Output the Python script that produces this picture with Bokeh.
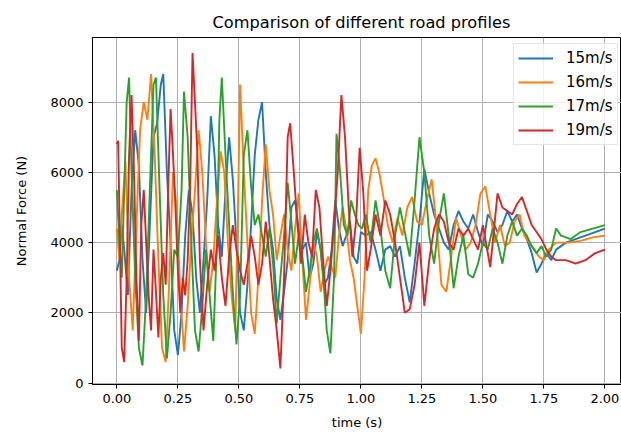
from bokeh.plotting import figure
from bokeh.models import Range1d, FixedTicker, PrintfTickFormatter, Legend, LegendItem
from bokeh.embed import file_html
from bokeh.resources import INLINE

title = "Comparison of different road profiles"
x_label = "time (s)"
y_label = "Normal Force (N)"
x_ticks = [0.0, 0.25, 0.5, 0.75, 1.0, 1.25, 1.5, 1.75, 2.0]
y_ticks = [0, 2000, 4000, 6000, 8000]
names = ["15m/s", "16m/s", "17m/s", "19m/s"]
colors = ["#1f77b4", "#ff7f0e", "#2ca02c", "#d62728"]

t15 = [0.00, 0.01, 0.02, 0.03, 0.045, 0.06, 0.075, 0.09, 0.105, 0.12, 0.135, 0.15, 0.165, 0.18, 0.19, 0.205, 0.22, 0.235, 0.25, 0.265,
       0.28, 0.295, 0.31, 0.325, 0.34, 0.355, 0.37, 0.385, 0.40, 0.415, 0.43, 0.445, 0.46, 0.475, 0.49, 0.505, 0.52, 0.535, 0.55, 0.565,
       0.58, 0.595, 0.61, 0.625, 0.64, 0.655, 0.67, 0.685, 0.70, 0.715, 0.73, 0.745, 0.76, 0.775, 0.79, 0.805, 0.82, 0.835, 0.85, 0.865,
       0.88, 0.895, 0.91, 0.925, 0.94, 0.955, 0.97, 0.985, 1.00, 1.02, 1.04, 1.06, 1.08, 1.10, 1.12, 1.14, 1.16, 1.18, 1.20, 1.22,
       1.24, 1.26, 1.28, 1.30, 1.32, 1.34, 1.36, 1.38, 1.40, 1.42, 1.44, 1.46, 1.48, 1.50, 1.52, 1.54, 1.56, 1.58, 1.60, 1.62,
       1.64, 1.66, 1.68, 1.70, 1.72, 1.74, 1.76, 1.78, 1.80, 1.84, 1.88, 1.92, 1.96, 2.00]
v15 = [3200, 3500, 4500, 3800, 2500, 5500, 7200, 6200, 3500, 2000, 4500, 7000, 7400, 8500, 8800, 6000, 4000, 1500, 800, 2000,
       4200, 5500, 4800, 3000, 2000, 3500, 5200, 7600, 6500, 4500, 3600, 5500, 7000, 5800, 4000, 2000, 1500, 2800, 4500, 6500,
       7500, 8000, 6000, 4500, 3800, 2400, 1800, 2600, 3500, 5000, 5200, 4400, 3800, 4000, 3000, 3400, 4300, 3800, 2800, 3000,
       3800, 5200, 4400, 3900, 4200, 4600, 3600, 3400, 4300, 4200, 4300, 3800, 3200, 3800, 3900, 3600, 3900, 3000, 2300, 3400,
       4600, 6100, 5400, 4800, 4400, 4000, 3800, 4500, 4900, 4600, 4400, 4800, 4300, 3900, 4800, 4600, 4300, 4500, 4900, 4600,
       4800, 4400, 4100, 3700, 3150, 3400, 3700, 3500, 3800, 4000, 4100, 4200, 4300, 4400]

t16 = [0.00, 0.01, 0.02, 0.035, 0.05, 0.065, 0.08, 0.095, 0.11, 0.125, 0.14, 0.155, 0.17, 0.185, 0.20, 0.215, 0.23, 0.245, 0.26, 0.275,
       0.29, 0.305, 0.32, 0.335, 0.35, 0.365, 0.38, 0.395, 0.41, 0.425, 0.44, 0.455, 0.47, 0.485, 0.495, 0.505, 0.52, 0.535, 0.55, 0.565,
       0.58, 0.595, 0.61, 0.625, 0.64, 0.655, 0.67, 0.685, 0.70, 0.715, 0.73, 0.745, 0.76, 0.775, 0.79, 0.805, 0.82, 0.835, 0.85, 0.865,
       0.88, 0.895, 0.91, 0.925, 0.94, 0.955, 0.97, 0.985, 1.00, 1.015, 1.03, 1.045, 1.06, 1.075, 1.09, 1.11, 1.13, 1.15, 1.17, 1.19,
       1.21, 1.23, 1.25, 1.27, 1.29, 1.31, 1.33, 1.35, 1.37, 1.39, 1.41, 1.43, 1.45, 1.47, 1.49, 1.51, 1.53, 1.55, 1.57, 1.59,
       1.61, 1.63, 1.65, 1.67, 1.69, 1.71, 1.73, 1.75, 1.77, 1.80, 1.85, 1.90, 1.95, 2.00]
v16 = [4400, 3500, 4800, 6300, 3000, 1500, 4500, 7200, 8000, 7500, 8800, 6500, 3500, 1000, 600, 3000, 6000, 5000, 2500, 900,
       2200, 4000, 5500, 7200, 6000, 4000, 2600, 3500, 5200, 6600, 6000, 4000, 2500, 1500, 4500, 8500, 6000, 4000, 2000, 1400,
       3000, 5200, 6800, 5500, 4800, 3500, 4200, 4800, 3800, 3200, 4400, 5400, 3500, 1800, 2800, 4000, 3600, 2600, 3200, 3600,
       3300, 3000, 4200, 5000, 4400, 3500, 3000, 2200, 1400, 3000, 5500, 6200, 6400, 6000, 5400, 4500, 4000, 4700, 4200, 5000,
       5300, 4600, 4500, 5200, 5800, 4500, 2800, 2600, 3600, 4700, 4200, 3800, 4000, 4500, 5400, 5600, 4800, 4000, 4500, 3900,
       4000, 4600, 4800, 4200, 4000, 3800, 3600, 3500, 3800, 4000, 4000, 4050, 4150, 4200]

t17 = [0.00, 0.01, 0.02, 0.03, 0.04, 0.05, 0.06, 0.075, 0.09, 0.105, 0.12, 0.135, 0.15, 0.16, 0.175, 0.19, 0.205, 0.22, 0.235, 0.25,
       0.265, 0.275, 0.29, 0.305, 0.32, 0.335, 0.35, 0.365, 0.38, 0.395, 0.41, 0.42, 0.43, 0.445, 0.46, 0.475, 0.49, 0.505, 0.52, 0.535,
       0.55, 0.565, 0.58, 0.595, 0.61, 0.625, 0.64, 0.655, 0.67, 0.685, 0.70, 0.715, 0.73, 0.745, 0.76, 0.775, 0.79, 0.805, 0.82, 0.835,
       0.85, 0.86, 0.875, 0.89, 0.90, 0.915, 0.93, 0.945, 0.96, 0.975, 0.99, 1.005, 1.02, 1.04, 1.06, 1.08, 1.10, 1.12, 1.14, 1.16,
       1.18, 1.20, 1.22, 1.24, 1.26, 1.28, 1.30, 1.32, 1.34, 1.36, 1.38, 1.40, 1.42, 1.44, 1.46, 1.48, 1.50, 1.52, 1.54, 1.56,
       1.58, 1.60, 1.62, 1.64, 1.66, 1.68, 1.70, 1.72, 1.74, 1.76, 1.78, 1.80, 1.82, 1.86, 1.90, 1.95, 2.00]
v17 = [5500, 4000, 3000, 5500, 8000, 8700, 6000, 3000, 1000, 500, 2500, 5500, 8500, 8700, 5500, 2500, 700, 2000, 3800, 3600,
       5500, 8300, 7000, 4000, 1500, 900, 2200, 3800, 2500, 1200, 4000, 7500, 8700, 6500, 4500, 2600, 1100, 2500, 6500, 7200,
       5600, 4500, 4800, 4200, 3600, 4400, 3400, 1700, 3000, 4200, 5700, 4600, 3400, 4200, 3600, 2600, 3200, 4000, 4400, 3800,
       2600, 1500, 850, 3000, 7100, 6000, 4500, 4200, 5200, 4800, 4500, 4400, 4800, 4000, 5200, 4400, 3200, 2700, 4200, 5000,
       4300, 3600, 5200, 7000, 6000, 4200, 3400, 4600, 5400, 4200, 2700, 3600, 4200, 3100, 3000, 3400, 4000, 3800, 4400, 4000,
       3400, 4200, 4600, 4200, 4400, 4200, 3900, 3700, 3900, 3600, 3800, 4400, 4200, 4100, 4300, 4400, 4500]

t19 = [0.00, 0.005, 0.01, 0.02, 0.03, 0.04, 0.05, 0.06, 0.07, 0.08, 0.09, 0.10, 0.11, 0.12, 0.13, 0.14, 0.15, 0.16, 0.17, 0.18,
       0.19, 0.20, 0.21, 0.22, 0.23, 0.24, 0.25, 0.26, 0.27, 0.28, 0.29, 0.30, 0.31, 0.32, 0.33, 0.34, 0.355, 0.37, 0.385, 0.40,
       0.415, 0.43, 0.445, 0.46, 0.475, 0.49, 0.505, 0.52, 0.535, 0.55, 0.565, 0.58, 0.595, 0.61, 0.625, 0.64, 0.655, 0.67, 0.685, 0.70,
       0.71, 0.725, 0.74, 0.755, 0.77, 0.785, 0.80, 0.815, 0.83, 0.845, 0.86, 0.875, 0.89, 0.905, 0.92, 0.935, 0.95, 0.965, 0.98, 0.995,
       1.01, 1.025, 1.04, 1.06, 1.08, 1.10, 1.12, 1.14, 1.16, 1.18, 1.20, 1.22, 1.24, 1.26, 1.28, 1.30, 1.32, 1.34, 1.36, 1.38,
       1.40, 1.42, 1.44, 1.46, 1.48, 1.50, 1.53, 1.56, 1.58, 1.60, 1.62, 1.64, 1.66, 1.68, 1.70, 1.72, 1.74, 1.76, 1.78, 1.80,
       1.84, 1.88, 1.92, 1.96, 2.00]
v19 = [6800, 6900, 5000, 1000, 600, 3000, 6500, 8200, 6000, 3000, 1200, 4500, 5500, 4000, 2500, 1500, 3800, 2600, 1300, 3000,
       3700, 2800, 5500, 7800, 6500, 5000, 3200, 2000, 3000, 2500, 3500, 5500, 9400, 8000, 6500, 3500, 1500, 2800, 3800, 3200,
       4200, 3000, 2200, 3600, 4500, 3800, 3200, 2800, 3400, 4200, 3600, 2800, 3400, 4600, 3600, 2400, 1500, 420, 3000, 7000,
       7400, 6000, 4500, 3400, 4800, 4000, 3600, 5500, 5000, 3500, 2200, 3200, 4500, 6000, 8200, 7000, 5000, 3600, 4600, 6700,
       5400, 3200, 3800, 4800, 4200, 5200, 4800, 4000, 3000, 2000, 2100, 2800, 4000, 2200, 3500, 4400, 4800, 4600, 4000, 3800,
       4400, 4200, 4400, 4100, 3800, 4500, 3300, 5400, 5000, 4900, 4800, 5100, 5300, 4900, 4500, 4300, 4100, 3800, 3600, 3500,
       3500, 3400, 3500, 3700, 3800]

series_t = [t15, t16, t17, t19]
series_v = [v15, v16, v17, v19]

p = figure(width=621, height=432, output_backend="svg", toolbar_location=None,
           x_range=Range1d(-0.1, 2.068), y_range=Range1d(-40, 9840),
           min_border_left=92, min_border_right=0, min_border_top=37, min_border_bottom=47)

p.title.text = title
p.title.align = "left"
p.title.offset = 120
p.title.standoff = 11
p.title.text_font = "DejaVu Sans"
p.title.text_font_size = "16.2px"
p.title.text_font_style = "normal"
p.title.text_color = "#000000"

p.background_fill_color = "white"
p.border_fill_color = "white"
p.outline_line_color = "black"
p.outline_line_width = 1

for ax in (p.xaxis[0], p.yaxis[0]):
    ax.axis_line_color = "black"
    ax.major_tick_line_color = "black"
    ax.major_tick_out = 4
    ax.major_tick_in = 0
    ax.minor_tick_line_color = None
    ax.major_label_text_font = "DejaVu Sans"
    ax.major_label_text_font_size = "13px"
    ax.major_label_text_color = "#000000"
    ax.axis_label_text_font = "DejaVu Sans"
    ax.axis_label_text_font_size = "13px"
    ax.axis_label_text_font_style = "normal"
    ax.axis_label_text_color = "#000000"

p.xaxis.ticker = FixedTicker(ticks=x_ticks)
p.xaxis.formatter = PrintfTickFormatter(format="%.2f")
p.yaxis.ticker = FixedTicker(ticks=y_ticks)
p.xaxis.axis_label = x_label
p.yaxis.axis_label = y_label
p.xaxis.axis_label_standoff = 9
p.yaxis.axis_label_standoff = 18
p.xaxis.major_label_standoff = 5
p.yaxis.major_label_standoff = 5

p.xgrid.grid_line_color = "#b0b0b0"
p.ygrid.grid_line_color = "#b0b0b0"
p.xgrid.grid_line_width = 1
p.ygrid.grid_line_width = 1

items = []
for name, c, tt, vv in zip(names, colors, series_t, series_v):
    r = p.line(tt, vv, line_color=c, line_width=1.9)
    items.append(LegendItem(label=name, renderers=[r]))

legend = Legend(items=items, location=(421, 239))
legend.label_text_font = "DejaVu Sans"
legend.label_text_font_size = "15px"
legend.label_text_color = "#000000"
legend.glyph_width = 35
legend.glyph_height = 20
legend.label_height = 20
legend.spacing = 4
legend.padding = 4
legend.label_standoff = 13
legend.border_line_color = "#cccccc"
legend.border_line_width = 1
legend.background_fill_color = "white"
legend.background_fill_alpha = 0.8
p.add_layout(legend, "center")

open("out.html", "w").write(file_html(p, INLINE))
